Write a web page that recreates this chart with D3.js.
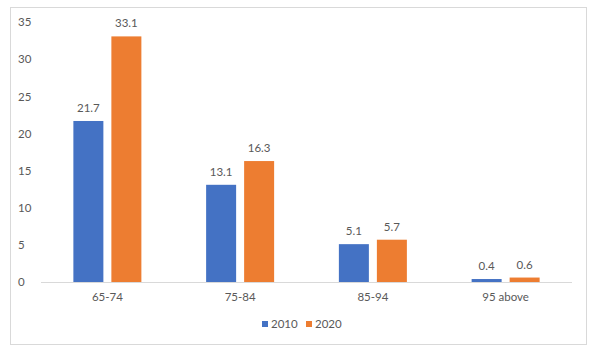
<!DOCTYPE html>
<html>
<head>
<meta charset="utf-8">
<script src="https://cdn.jsdelivr.net/npm/d3@7"></script>
<style>
  body { margin: 0; background: #fff; }
  text { font-family: Lato, "Open Sans", sans-serif; fill: #595959; }
</style>
</head>
<body>
<div class="chart"></div>
<script>
// data
const categories = ["65-74", "75-84", "85-94", "95 above"];
const seriesNames = ["2010", "2020"];
const values2010 = [21.7, 13.1, 5.1, 0.4];
const values2020 = [33.1, 16.3, 5.7, 0.6];
const yTicks = [0, 5, 10, 15, 20, 25, 30, 35];
const colors = ["#4472c4", "#ed7d31"];

const width = 594;
const height = 351;
const font_size = 11.5;

const svg = d3.select(".chart").append("svg")
    .attr("width", width)
    .attr("height", height);

// chart border
svg.append("rect")
    .attr("x", 10.5)
    .attr("y", 7.5)
    .attr("width", 576)
    .attr("height", 337)
    .attr("fill", "#fff")
    .attr("stroke", "#d9d9d9");

// scales
const x_scale = d3.scaleBand()
    .domain(categories)
    .range([41, 572]);

const y_scale = d3.scaleLinear()
    .domain([0, 35])
    .range([282, 22.3]);

const bar_width = 30;
const bar_gap = 8;
const groupOffset = (x_scale.bandwidth() - (2 * bar_width + bar_gap)) / 2;

const x_inner = d3.scaleOrdinal()
    .domain(seriesNames)
    .range([groupOffset, groupOffset + bar_width + bar_gap]);

// y tick labels
svg.append("g")
    .selectAll("text")
    .data(yTicks).enter()
    .append("text")
    .attr("x", 18)
    .attr("y", d => y_scale(d))
    .attr("dy", "0.35em")
    .attr("font-size", font_size)
    .text(d => d);

// x axis line
svg.append("line")
    .attr("x1", 41)
    .attr("x2", 572)
    .attr("y1", 282.5)
    .attr("y2", 282.5)
    .attr("stroke", "#d9d9d9");

// x labels
svg.append("g")
    .selectAll("text")
    .data(categories).enter()
    .append("text")
    .attr("x", d => x_scale(d) + x_scale.bandwidth() / 2)
    .attr("y", 297)
    .attr("dy", "0.35em")
    .attr("text-anchor", "middle")
    .attr("font-size", font_size)
    .text(d => d);

// bars
const series = [values2010, values2020];
series.forEach(function(vals, i) {
    const name = seriesNames[i];
    const g = svg.append("g");
    g.selectAll("rect")
        .data(vals).enter()
        .append("rect")
        .attr("x", (d, j) => x_scale(categories[j]) + x_inner(name))
        .attr("y", d => y_scale(d))
        .attr("width", bar_width)
        .attr("height", d => y_scale(0) - y_scale(d))
        .attr("fill", colors[i]);
    g.selectAll("text")
        .data(vals).enter()
        .append("text")
        .attr("x", (d, j) => x_scale(categories[j]) + x_inner(name) + bar_width / 2)
        .attr("y", d => y_scale(d) - 9)
        .attr("text-anchor", "middle")
        .attr("font-size", font_size)
        .text(d => d);
});

// legend
const legend_x = [262, 306];
seriesNames.forEach(function(name, i) {
    svg.append("rect")
        .attr("x", legend_x[i])
        .attr("y", 321)
        .attr("width", 6)
        .attr("height", 6)
        .attr("fill", colors[i]);
    svg.append("text")
        .attr("x", legend_x[i] + 9)
        .attr("y", 324)
        .attr("dy", "0.35em")
        .attr("font-size", font_size)
        .text(name);
});
</script>
</body>
</html>
